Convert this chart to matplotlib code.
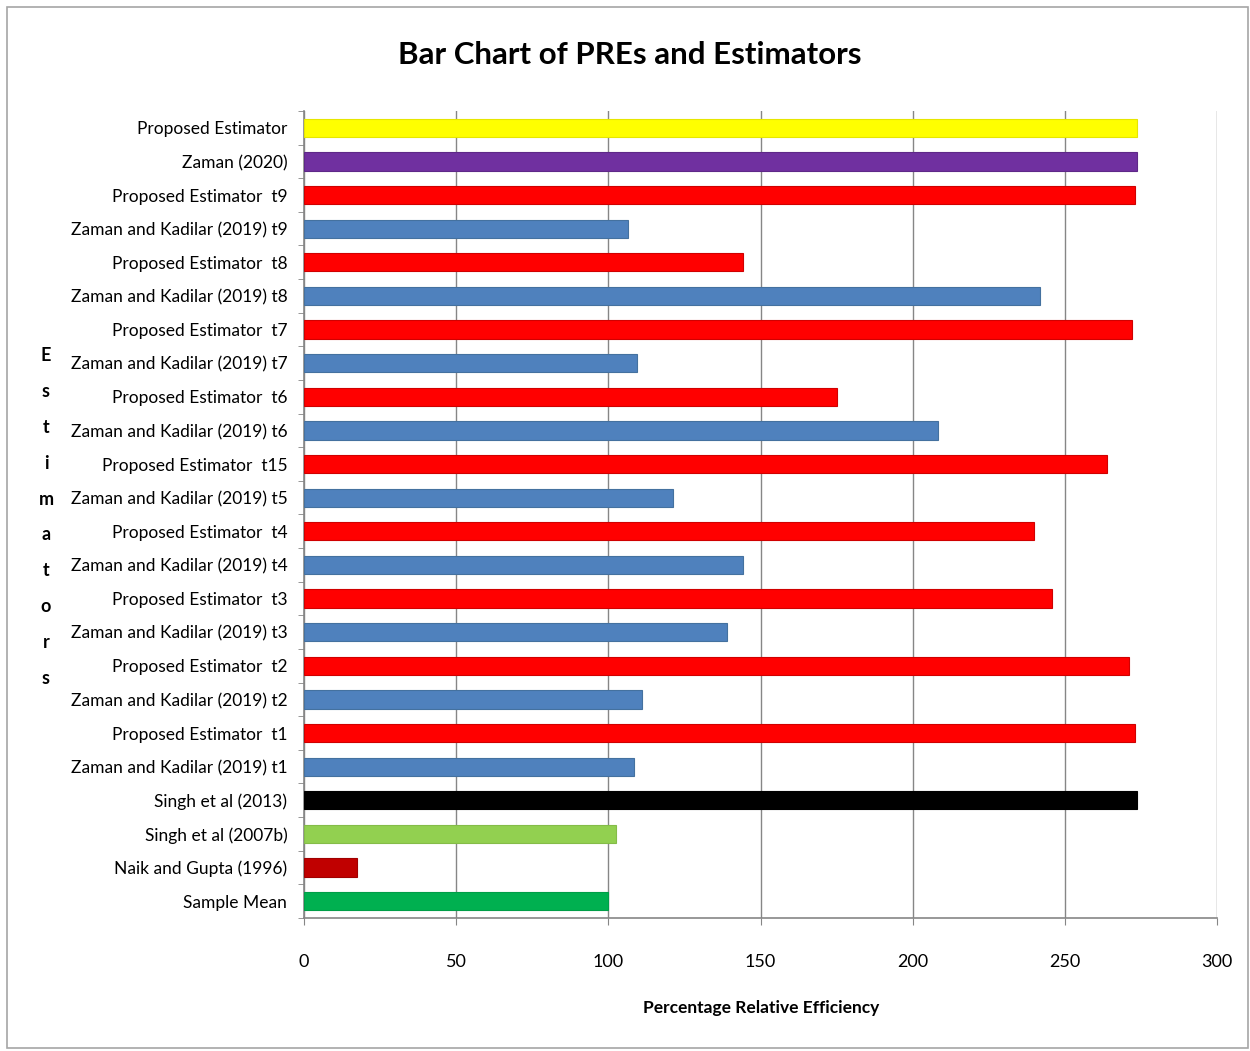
import matplotlib
matplotlib.use("Agg")
import matplotlib.pyplot as plt
from matplotlib.patches import Rectangle
import numpy as np

plt.rcParams['font.family'] = ['Lato', 'DejaVu Sans']

# Estimators, listed top to bottom
categories = [
    "Proposed Estimator", "Zaman (2020)",
    "Proposed Estimator  t9", "Zaman and Kadilar (2019) t9",
    "Proposed Estimator  t8", "Zaman and Kadilar (2019) t8",
    "Proposed Estimator  t7", "Zaman and Kadilar (2019) t7",
    "Proposed Estimator  t6", "Zaman and Kadilar (2019) t6",
    "Proposed Estimator  t15", "Zaman and Kadilar (2019) t5",
    "Proposed Estimator  t4", "Zaman and Kadilar (2019) t4",
    "Proposed Estimator  t3", "Zaman and Kadilar (2019) t3",
    "Proposed Estimator  t2", "Zaman and Kadilar (2019) t2",
    "Proposed Estimator  t1", "Zaman and Kadilar (2019) t1",
    "Singh et al (2013)", "Singh et al (2007b)",
    "Naik and Gupta (1996)", "Sample Mean",
]

# Percentage relative efficiency of each estimator
pre_values = [
    273.7, 273.7,
    272.9, 106.6,
    144.2, 241.7,
    272.0, 109.3,
    175.3, 208.3,
    264.0, 121.4,
    240.0, 144.2,
    245.9, 139.0,
    271.1, 111.2,
    272.9, 108.4,
    273.7, 102.4,
    17.3, 100.0,
]

x_ticks = [0, 50, 100, 150, 200, 250, 300]

RED, BLUE = "#FF0000", "#4F81BD"
bar_colors = ["#FFFF00", "#7030A0"] + [RED, BLUE] * 9 + ["#000000", "#92D050", "#C00000", "#00B050"]
edge_colors = ["#E6E600", "#5E2888"] + ["#D00000", "#44719F"] * 9 + ["#000000", "#84BC48", "#A00000", "#009E48"]

fig = plt.figure(figsize=(12.5, 10.51), dpi=100)

# light frame around the whole chart
fig.patches.append(Rectangle((7 / 1250, 1 - 1048 / 1051), 1241 / 1250, 1041 / 1051,
                             transform=fig.transFigure, fill=False,
                             edgecolor="#A6A6A6", linewidth=1.2))

ax = fig.add_axes([304 / 1250, 1 - 918 / 1051, 913 / 1250, 807 / 1051])

y = np.arange(len(categories))
ax.barh(y, pre_values, height=0.54, color=bar_colors, edgecolor=edge_colors,
        linewidth=0.8, zorder=3)

ax.set_xlim(0, 300)
ax.set_ylim(len(categories) - 0.5, -0.5)

ax.set_xticks(x_ticks)
ax.set_xticklabels([str(t) for t in x_ticks], fontsize=13)
ax.set_yticks(y)
ax.set_yticklabels(categories, fontsize=12.5)
ax.set_yticks(np.arange(-0.5, len(categories)), minor=True)

ax.tick_params(axis='y', which='major', length=0, pad=12)
ax.tick_params(axis='y', which='minor', length=4, color="#868686", direction='out')
ax.tick_params(axis='x', which='major', length=5, color="#868686", direction='out', pad=21)

ax.grid(axis='x', color="#868686", linewidth=1.0, zorder=0)
ax.set_axisbelow(True)

for side in ("top", "right"):
    ax.spines[side].set_visible(False)
for side in ("left", "bottom"):
    ax.spines[side].set_color("#868686")
    ax.spines[side].set_linewidth(1.2)

fig.text(630 / 1250, 1 - 55 / 1051, "Bar Chart of PREs and Estimators",
         ha='center', va='center', fontsize=22.5, fontweight='bold')
fig.text(761 / 1250, 1 - 1008 / 1051, "Percentage Relative Efficiency",
         ha='center', va='center', fontsize=12.5, fontweight='bold')
fig.text(46 / 1250, 1 - 517 / 1051, "\n".join("Estimators"),
         ha='center', va='center', fontsize=13, fontweight='bold', linespacing=2.35)

fig.savefig("out.png", dpi=100, facecolor="white")
